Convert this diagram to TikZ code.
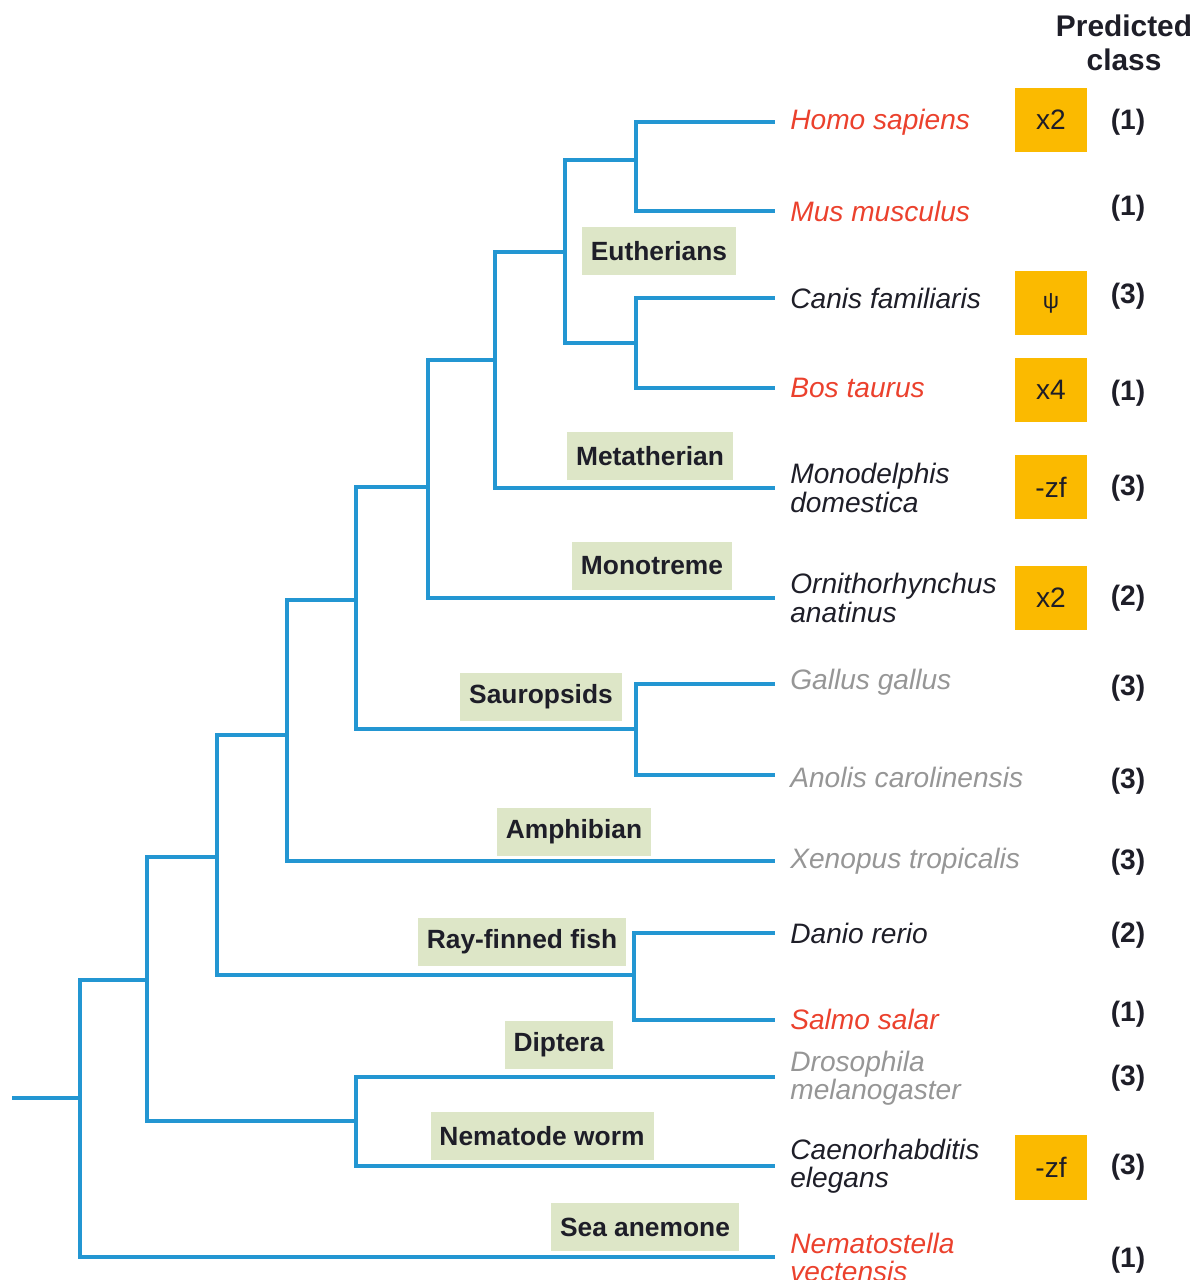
\documentclass[tikz,border=0pt]{standalone}
\usepackage{fontspec}
\setmainfont{Liberation Sans}
\usepackage{xcolor}
\usepackage{tikz}
\usetikzlibrary{calc, positioning}

\begin{document}
\begin{tikzpicture}[x=0.02cm, y=-0.02cm,
    branch/.style={draw=treeblue, line width=2.2pt},
    clade/.style={fill=cladegreen, text=textdark, inner xsep=0.18cm, minimum height=0.96cm,
        font=\fontsize{15}{15}\selectfont\bfseries},
    species/.style={anchor=west, inner sep=0pt, align=left,
        font=\fontsize{16}{16}\selectfont\itshape},
    event/.style={fill=predorange, text=textdark, minimum width=1.44cm, minimum height=1.3cm,
        font=\fontsize{16}{16}\selectfont},
    cls/.style={text=textdark, font=\fontsize{16}{16}\selectfont\bfseries}]
    % Màu dùng trong hình
    \definecolor{treeblue}{RGB}{35, 150, 210}
    \definecolor{sppred}{RGB}{235, 65, 45}
    \definecolor{sppgray}{RGB}{150, 150, 150}
    \definecolor{cladegreen}{RGB}{221, 230, 199}
    \definecolor{predorange}{RGB}{251, 186, 0}
    \definecolor{textdark}{RGB}{30, 30, 40}
    \useasboundingbox (0,0) rectangle (1203,1280);

    % 1. Tiêu đề cột
    \node[align=center, text=textdark, font=\fontsize{17}{19}\selectfont\bfseries] (head) at (1124,43) {Predicted\\class};

    % 2. Các điểm phân nhánh
    \coordinate (root) at (12,1098);
    \coordinate (nRoot) at (80,1098);
    \coordinate (nBil) at (147,980);
    \coordinate (nVert) at (217,857);
    \coordinate (nEcd) at (356,1121);
    \coordinate (nTet) at (287,735);
    \coordinate (nFish) at (634,975);
    \coordinate (nAmn) at (356,600);
    \coordinate (nSau) at (636,729);
    \coordinate (nMam) at (428,487);
    \coordinate (nThe) at (495,360);
    \coordinate (nEut) at (565,252);
    \coordinate (nHM) at (636,160);
    \coordinate (nCB) at (636,343);

    % 3. Đầu các lá
    \coordinate (hsEnd) at (775,122);
    \coordinate (mmEnd) at (775,211);
    \coordinate (cfEnd) at (775,298);
    \coordinate (btEnd) at (775,388);
    \coordinate (mdEnd) at (775,488);
    \coordinate (oaEnd) at (775,598);
    \coordinate (ggEnd) at (775,684);
    \coordinate (acEnd) at (775,775);
    \coordinate (xtEnd) at (775,861);
    \coordinate (drEnd) at (775,933);
    \coordinate (ssEnd) at (775,1020);
    \coordinate (dmEnd) at (775,1077);
    \coordinate (ceEnd) at (775,1166);
    \coordinate (nvEnd) at (775,1257);

    % 4. Các nhánh của cây
    \draw[branch] (root) -- (nRoot);
    \draw[branch] (nRoot) |- (nBil) (nRoot) |- (nvEnd);
    \draw[branch] (nBil) |- (nVert) (nBil) |- (nEcd);
    \draw[branch] (nEcd) |- (dmEnd) (nEcd) |- (ceEnd);
    \draw[branch] (nVert) |- (nTet) (nVert) |- (nFish);
    \draw[branch] (nFish) |- (drEnd) (nFish) |- (ssEnd);
    \draw[branch] (nTet) |- (nAmn) (nTet) |- (xtEnd);
    \draw[branch] (nAmn) |- (nMam) (nAmn) |- (nSau);
    \draw[branch] (nSau) |- (ggEnd) (nSau) |- (acEnd);
    \draw[branch] (nMam) |- (nThe) (nMam) |- (oaEnd);
    \draw[branch] (nThe) |- (nEut) (nThe) |- (mdEnd);
    \draw[branch] (nEut) |- (nHM) (nEut) |- (nCB);
    \draw[branch] (nHM) |- (hsEnd) (nHM) |- (mmEnd);
    \draw[branch] (nCB) |- (cfEnd) (nCB) |- (btEnd);

    % 5. Nhãn nhóm
    \node[clade] (eut) at (659,251) {Eutherians};
    \node[clade] (met) at (650,456) {Metatherian};
    \node[clade] (mon) at (652,566) {Monotreme};
    \node[clade] (sau) at (541,697) {Sauropsids};
    \node[clade] (amp) at (574,832) {Amphibian};
    \node[clade] (ray) at (522,942) {Ray-finned fish};
    \node[clade] (dip) at (559,1045) {Diptera};
    \node[clade] (nem) at (542,1136) {Nematode worm};
    \node[clade] (sea) at (645,1227) {Sea anemone};

    % 6. Tên loài
    \node[species, text=sppred] (hs) at (790,122) {Homo sapiens};
    \node[species, text=sppred] (mm) at (790,211) {Mus musculus};
    \node[species, text=textdark] (cf) at (790,298) {Canis familiaris};
    \node[species, text=sppred] (bt) at (790,388) {Bos taurus};
    \node[species, text=textdark] (md) at (790,488) {Monodelphis\\domestica};
    \node[species, text=textdark] (oa) at (790,598) {Ornithorhynchus\\anatinus};
    \node[species, text=sppgray] (gg) at (790,682) {Gallus gallus};
    \node[species, text=sppgray] (ac) at (790,777) {Anolis carolinensis};
    \node[species, text=sppgray] (xt) at (790,861) {Xenopus tropicalis};
    \node[species, text=textdark] (dr) at (790,933) {Danio rerio};
    \node[species, text=sppred] (ss) at (790,1019) {Salmo salar};
    \node[species, text=sppgray] (dm) at (790,1078) {Drosophila\\melanogaster};
    \node[species, text=textdark] (ce) at (790,1166) {Caenorhabditis\\elegans};
    \node[species, text=sppred] (nv) at (790,1257) {Nematostella\\vectensis};

    % 7. Ô biến cố
    \node[event] (evHs) at (1051,120) {x2};
    \node[event] (evCf) at (1051,303) {\fontsize{13}{13}\selectfont ψ};
    \node[event] (evBt) at (1051,390) {x4};
    \node[event] (evMd) at (1051,487) {-zf};
    \node[event] (evOa) at (1051,598) {x2};
    \node[event] (evCe) at (1051,1167) {-zf};

    % 8. Lớp dự đoán
    \node[cls] (cHs) at (1128,122) {(1)};
    \node[cls] (cMm) at (1128,208) {(1)};
    \node[cls] (cCf) at (1128,296) {(3)};
    \node[cls] (cBt) at (1128,393) {(1)};
    \node[cls] (cMd) at (1128,488) {(3)};
    \node[cls] (cOa) at (1128,598) {(2)};
    \node[cls] (cGg) at (1128,688) {(3)};
    \node[cls] (cAc) at (1128,781) {(3)};
    \node[cls] (cXt) at (1128,862) {(3)};
    \node[cls] (cDr) at (1128,935) {(2)};
    \node[cls] (cSs) at (1128,1014) {(1)};
    \node[cls] (cDm) at (1128,1078) {(3)};
    \node[cls] (cCe) at (1128,1167) {(3)};
    \node[cls] (cNv) at (1128,1260) {(1)};
\end{tikzpicture}
\end{document}
